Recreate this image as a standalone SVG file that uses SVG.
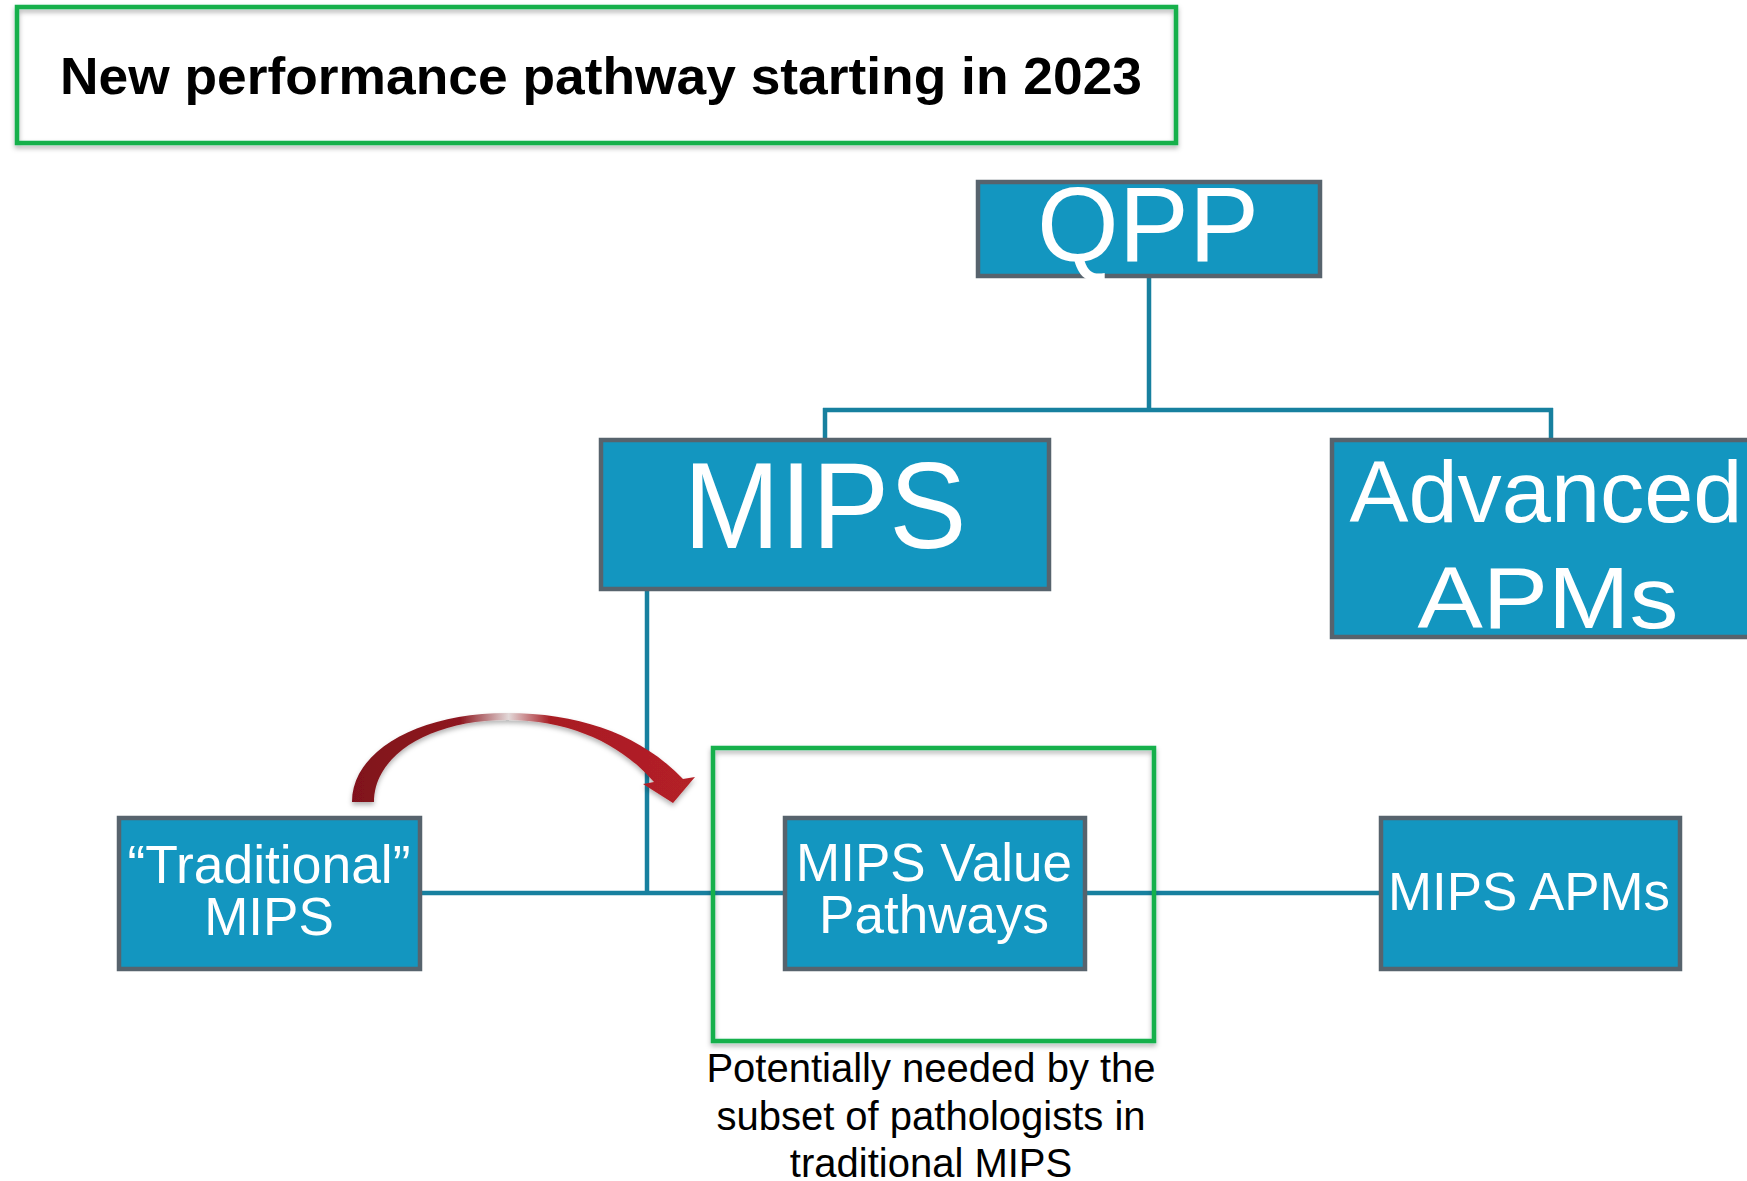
<svg xmlns="http://www.w3.org/2000/svg" width="1747" height="1181" viewBox="0 0 1747 1181">
  <defs>
    <style>
      .box { fill: #1396c0; stroke: #57636d; stroke-width: 4.5; }
      .wt { fill: #ffffff; font-family: "Liberation Sans", Arial, sans-serif; text-anchor: middle; }
      .conn { stroke: #17809f; stroke-width: 4.5; fill: none; }
      .green { fill: none; stroke: #12b04c; stroke-width: 4.5; }
      .cap { fill: #000000; font-family: "Liberation Sans", Arial, sans-serif; font-size: 40px; text-anchor: middle; }
    </style>
    <filter id="shadow" x="-5%" y="-5%" width="110%" height="120%">
      <feDropShadow dx="0" dy="3" stdDeviation="2.5" flood-color="#000" flood-opacity="0.3"/>
    </filter>
    <linearGradient id="arrowGrad" gradientUnits="userSpaceOnUse" x1="350" y1="0" x2="695" y2="0">
      <stop offset="0" stop-color="#80111a"/>
      <stop offset="0.32" stop-color="#8e1820"/>
      <stop offset="0.46" stop-color="#e2d8d8"/>
      <stop offset="0.58" stop-color="#a81d24"/>
      <stop offset="1" stop-color="#b42026"/>
    </linearGradient>
  </defs>

  <rect width="1747" height="1181" fill="#ffffff"/>

  <g id="title">
    <rect x="17" y="7" width="1159" height="136" fill="#ffffff" class="green" filter="url(#shadow)"/>
    <text x="601" y="94" font-family="Liberation Sans, Arial, sans-serif" font-weight="bold" font-size="52" text-anchor="middle" textLength="1082" lengthAdjust="spacingAndGlyphs" fill="#000">New performance pathway starting in 2023</text>
  </g>

  <g id="connectors">
    <line class="conn" x1="1149" y1="276" x2="1149" y2="410"/>
    <line class="conn" x1="823" y1="410" x2="1553" y2="410"/>
    <line class="conn" x1="825" y1="408" x2="825" y2="440"/>
    <line class="conn" x1="1551" y1="408" x2="1551" y2="440"/>
    <line class="conn" x1="647" y1="589" x2="647" y2="895"/>
    <line class="conn" x1="420" y1="893" x2="1381" y2="893"/>
  </g>

  <g id="highlight-mvp">
    <rect x="713" y="748" width="441" height="293" class="green" filter="url(#shadow)"/>
  </g>

  <g id="node-qpp">
    <rect class="box" x="978" y="182" width="342" height="94"/>
    <text class="wt" x="1148" y="261" font-size="106" textLength="222" lengthAdjust="spacingAndGlyphs">QPP</text>
  </g>

  <g id="node-mips">
    <rect class="box" x="601" y="440" width="448" height="149"/>
    <text class="wt" x="825" y="548" font-size="122" textLength="283" lengthAdjust="spacingAndGlyphs">MIPS</text>
  </g>

  <g id="node-advanced-apms">
    <rect class="box" x="1332" y="440" width="430" height="197"/>
    <text class="wt" x="1546" y="522" font-size="88" textLength="393" lengthAdjust="spacingAndGlyphs">Advanced</text>
    <text class="wt" x="1548" y="628" font-size="88" textLength="261" lengthAdjust="spacingAndGlyphs">APMs</text>
  </g>

  <g id="node-traditional-mips">
    <rect class="box" x="119" y="818" width="301" height="151"/>
    <text class="wt" x="269" y="883" font-size="53" textLength="283" lengthAdjust="spacingAndGlyphs">“Traditional”</text>
    <text class="wt" x="269" y="935" font-size="53">MIPS</text>
  </g>

  <g id="node-mvp">
    <rect class="box" x="785" y="818" width="300" height="151"/>
    <text class="wt" x="934" y="881" font-size="53" textLength="276" lengthAdjust="spacingAndGlyphs">MIPS Value</text>
    <text class="wt" x="934" y="933" font-size="53">Pathways</text>
  </g>

  <g id="node-mips-apms">
    <rect class="box" x="1381" y="818" width="299" height="151"/>
    <text class="wt" x="1529" y="910" font-size="53" textLength="282" lengthAdjust="spacingAndGlyphs">MIPS APMs</text>
  </g>

  <g id="curved-arrow">
    <path d="M 352 802 C 352 750 420 713 507 713 C 582 713 642 736 683 779 L 695 777 L 673 803 L 643 784 L 654 782 C 622 745 572 720 507 720 C 430 720 374 755 374 802 Z" fill="url(#arrowGrad)" filter="url(#shadow)"/>
  </g>

  <g id="caption">
    <text class="cap" x="931" y="1082">Potentially needed by the</text>
    <text class="cap" x="931" y="1130">subset of pathologists in</text>
    <text class="cap" x="931" y="1177">traditional MIPS</text>
  </g>
</svg>
